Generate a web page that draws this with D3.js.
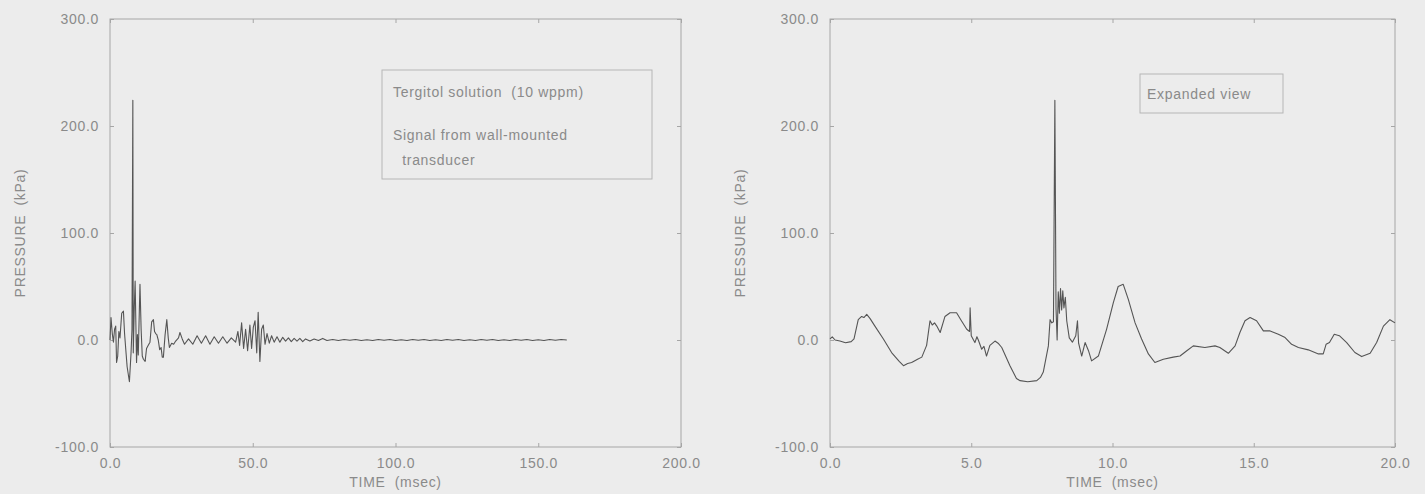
<!DOCTYPE html>
<html>
<head>
<meta charset="utf-8">
<script src="https://cdn.jsdelivr.net/npm/d3@7"></script>
<style>
  html, body { margin: 0; padding: 0; background: #ececec; }
  svg { display: block; }
  text { font-family: "Liberation Sans", Arial, sans-serif; fill: #8a8a8a; font-size: 14px; letter-spacing: 0.7px; white-space: pre; }
</style>
</head>
<body>
<svg id="chart" width="1425" height="494"></svg>
<script>
// Wall-mounted transducer pressure record, full record (msec, kPa)
const overviewSignal = [
  [0,0],[0.35,21],[0.8,6],[1.2,-2],[1.6,10],[2.0,13],[2.3,-21],[2.7,-15],[3.1,8],[3.5,2],
  [4.1,25],[4.7,27],[5.1,6],[5.5,-8],[6.0,-25],[6.8,-39],[7.35,-13],[7.7,10],[8.0,224],[8.15,-12],
  [8.5,30],[8.8,55],[9.3,-21],[9.6,5],[9.9,-14],[10.5,52],[10.9,10],[11.3,-15],[11.7,-18],[12.3,-20],
  [12.8,-8],[13.4,-5],[14.0,-2],[14.6,17],[15.2,19],[15.6,8],[16.0,6],[16.4,5],[16.9,0],[17.4,-9],
  [17.9,-7],[18.3,-16],[18.7,-16],[19.3,5],[19.9,19],[20.4,2],[20.8,-7],[21.6,-3],[22.3,-4],[23.0,-1],
  [24.0,2],[24.5,7],[25.3,1],[26.1,-4],[27.5,1],[29.0,-4],[30.5,4],[32.0,-3],[33.5,4],[35.0,-4],
  [36.5,3],[38.0,-3],[39.5,3],[41.0,-3],[42.5,2],[44.0,-2],[44.8,8],[45.4,-5],[46.1,16],[46.8,-8],
  [47.5,10],[48.2,-10],[49.0,14],[49.6,-8],[50.2,12],[50.8,18],[51.4,-12],[51.9,26],[52.5,-20],[53.1,10],
  [53.7,14],[54.3,-4],[55.0,6],[55.8,-3],[56.6,4],[57.5,-2],[58.5,3],[59.5,-2],[60.5,2.5],[61.5,-1],
  [62.5,2],[63.5,-1.5],[64.5,1.5],[65.5,-1],[66.5,1.5],[67.5,-1.5],[68.5,1],[70,-1],[71.5,1],[73,-0.5],
  [74.5,1.5],[76,-0.5],[78,0.5],[80,-0.5],[82,0.5],[84,-0.3],[86,0.5],[88,-0.5],[90,0.3],[92,-0.5],
  [94,0.5],[96,-0.3],[98,0.5],[100,-0.5],[102,0.3],[104,-0.5],[106,0.5],[108,-0.3],[110,0.5],[112,-0.5],
  [114,0.3],[116,-0.5],[118,0.5],[120,-0.3],[122,0.5],[124,-0.5],[126,0.3],[128,-0.5],[130,0.5],[132,-0.3],
  [134,0.5],[136,-0.5],[138,0.3],[140,-0.5],[142,0.5],[144,-0.3],[146,0.5],[148,-0.5],[150,0.3],[152,-0.5],
  [154,0.5],[156,-0.3],[158,0.5],[160,0]
];

// Same record, first 20 msec (msec, kPa)
const expandedSignal = [
  [0,1],[0.08,3],[0.18,0],[0.35,-1],[0.55,-2.5],[0.75,-1.5],[0.85,1],[1.0,19],[1.12,22],[1.2,21],
  [1.3,24],[1.42,20],[1.59,13],[1.89,1],[2.18,-11.7],[2.45,-20],[2.6,-24],[2.75,-22],[2.89,-21],[3.1,-18],
  [3.25,-16],[3.42,-5],[3.54,18],[3.62,14],[3.7,16],[3.78,13],[3.9,7],[4.07,22],[4.25,25.5],[4.48,25.5],
  [4.63,19],[4.84,10],[4.94,8],[4.96,30],[5.0,4],[5.08,0],[5.13,-2.4],[5.2,3],[5.25,0],[5.37,-8.6],
  [5.45,-6],[5.54,-15],[5.66,-5],[5.84,-1],[5.95,-3],[6.08,-7],[6.37,-24],[6.6,-36],[6.73,-38],[7.0,-39],
  [7.32,-38],[7.45,-35],[7.55,-30],[7.73,-5.5],[7.79,19],[7.85,16],[7.91,17],[7.96,224],[8.0,30],[8.04,0],
  [8.08,45],[8.12,25],[8.16,48],[8.2,28],[8.24,46],[8.28,30],[8.33,40],[8.38,18],[8.47,2],[8.58,-2],
  [8.7,4],[8.76,18],[8.8,-3],[8.91,-15],[9.03,-2.4],[9.15,-10],[9.26,-19.5],[9.5,-15],[9.79,10],[10.03,35],
  [10.2,50],[10.38,52],[10.56,38],[10.8,16],[11.03,1],[11.27,-13],[11.5,-21],[11.8,-18],[12.15,-16],[12.39,-15],
  [12.63,-10],[12.86,-5.5],[13.27,-7],[13.63,-5.5],[13.8,-7],[14.1,-12.4],[14.34,-5.5],[14.51,7],[14.69,18],[14.87,21],
  [15.1,18],[15.34,8.5],[15.58,8.5],[15.87,5.4],[16.11,2.3],[16.34,-4],[16.58,-7],[16.93,-9.2],[17.29,-13],[17.46,-13],
  [17.56,-4],[17.68,-2.4],[17.85,5.4],[18.03,4],[18.29,-2.4],[18.58,-11.7],[18.82,-15.5],[19.12,-12.4],[19.35,-2.4],[19.59,13],
  [19.82,19],[20.0,16]
];

const pressureTicks = [-100, 0, 100, 200, 300];
const overviewTimeTicks = [0, 50, 100, 150, 200];
const expandedTimeTicks = [0, 5, 10, 15, 20];
const overviewNotes = ["Tergitol solution  (10 wppm)", "Signal from wall-mounted", "  transducer"];
const expandedNotes = ["Expanded view"];
const timeTitle = "TIME  (msec)";
const pressureTitle = "PRESSURE  (kPa)";

const panels = [
  { left: 110, right: 681, top: 19, bottom: 447, xDomain: [0, 200], xTicks: overviewTimeTicks,
    data: overviewSignal, titleX: 20,
    note: { lines: overviewNotes, x: 382, y: 70, w: 270, h: 109, textX: 393, lineY: [92, 135, 160] } },
  { left: 830, right: 1395, top: 19, bottom: 447, xDomain: [0, 20], xTicks: expandedTimeTicks,
    data: expandedSignal, titleX: 740,
    note: { lines: expandedNotes, x: 1140, y: 74, w: 143, h: 39, textX: 1147, lineY: [94] } }
];

const svg = d3.select("#chart");
const fmt = d => d.toFixed(1);

// slight softening for the printed trace
svg.append("defs").append("filter").attr("id", "soft")
  .append("feGaussianBlur").attr("stdDeviation", 0.35);

panels.forEach(p => {
  const x = d3.scaleLinear().domain(p.xDomain).range([p.left, p.right]);
  const y = d3.scaleLinear().domain([-100, 300]).range([p.bottom, p.top]);
  const g = svg.append("g");

  // plot frame
  g.append("rect")
    .attr("x", p.left).attr("y", p.top)
    .attr("width", p.right - p.left).attr("height", p.bottom - p.top)
    .attr("fill", "none").attr("stroke", "#a6a6a6").attr("stroke-width", 1);

  const styleAxis = sel => {
    sel.select(".domain").remove();
    sel.selectAll(".tick line").attr("stroke", "#a6a6a6");
    sel.selectAll("text").attr("fill", "#8a8a8a").attr("font-size", 14)
      .attr("font-family", "Liberation Sans, Arial, sans-serif");
  };

  g.append("g").attr("transform", `translate(0,${p.bottom})`)
    .call(d3.axisBottom(x).tickValues(p.xTicks).tickFormat(fmt)
      .tickSizeInner(-4).tickSizeOuter(0).tickPadding(11))
    .call(styleAxis);
  g.append("g").attr("transform", `translate(0,${p.top})`)
    .call(d3.axisTop(x).tickValues(p.xTicks).tickFormat("")
      .tickSizeInner(-4).tickSizeOuter(0))
    .call(styleAxis);
  g.append("g").attr("transform", `translate(${p.left},0)`)
    .call(d3.axisLeft(y).tickValues(pressureTicks).tickFormat(fmt)
      .tickSizeInner(-4).tickSizeOuter(0).tickPadding(11))
    .call(styleAxis);
  g.append("g").attr("transform", `translate(${p.right},0)`)
    .call(d3.axisRight(y).tickValues(pressureTicks).tickFormat("")
      .tickSizeInner(-4).tickSizeOuter(0))
    .call(styleAxis);

  // axis titles
  g.append("text")
    .attr("x", (p.left + p.right) / 2).attr("y", 482)
    .attr("text-anchor", "middle").attr("dominant-baseline", "central")
    .text(timeTitle);
  g.append("text")
    .attr("transform", `translate(${p.titleX},${(p.top + p.bottom) / 2}) rotate(-90)`)
    .attr("text-anchor", "middle").attr("dominant-baseline", "central")
    .text(pressureTitle);

  // annotation box
  g.append("rect")
    .attr("x", p.note.x).attr("y", p.note.y)
    .attr("width", p.note.w).attr("height", p.note.h)
    .attr("fill", "none").attr("stroke", "#b6b6b6").attr("stroke-width", 1);
  g.selectAll(null).data(p.note.lines).join("text")
    .attr("x", p.note.textX)
    .attr("y", (d, i) => p.note.lineY[i])
    .attr("dominant-baseline", "central")
    .text(d => d);

  // pressure trace
  const line = d3.line().x(d => x(d[0])).y(d => y(d[1]));
  g.append("path")
    .datum(p.data)
    .attr("d", line)
    .attr("fill", "none")
    .attr("stroke", "#555")
    .attr("stroke-width", 1.1)
    .attr("stroke-linejoin", "round")
    .attr("filter", "url(#soft)");
});
</script>
</body>
</html>
